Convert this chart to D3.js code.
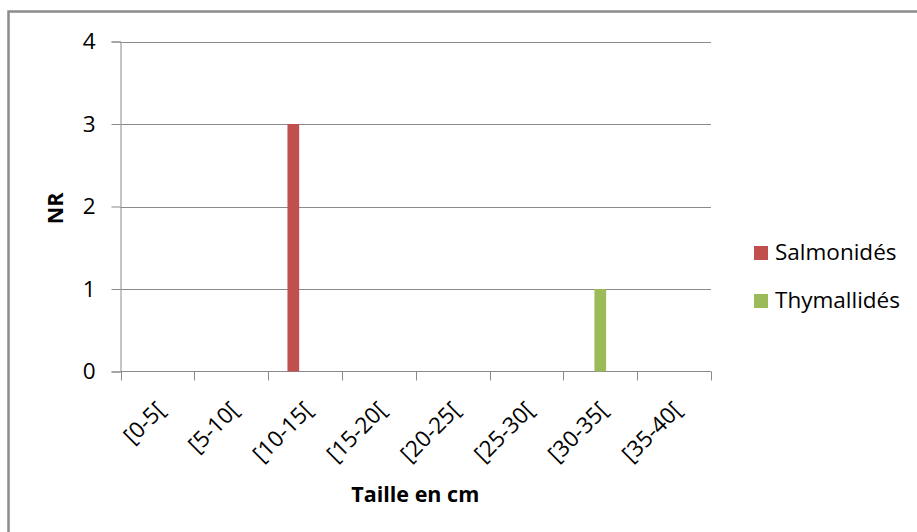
<!DOCTYPE html>
<html>
<head>
<meta charset="utf-8">
<script src="https://cdn.jsdelivr.net/npm/d3@7/dist/d3.min.js"></script>
<style>
  html, body { margin: 0; padding: 0; background: #fff; }
  svg { display: block; }
  text { font-family: "Open Sans", "DejaVu Sans", sans-serif; fill: #000; }
</style>
</head>
<body>
<svg id="chart" width="917" height="532"></svg>
<script>
// ---- data ----
const categories = ["[0-5[", "[5-10[", "[10-15[", "[15-20[", "[20-25[", "[25-30[", "[30-35[", "[35-40["];
const seriesNames = ["Salmonidés", "Thymallidés"];
const salmonides = [0, 0, 3, 0, 0, 0, 0, 0];
const thymallides = [0, 0, 0, 0, 0, 0, 1, 0];
const seriesValues = [salmonides, thymallides];
const seriesColors = ["#C0504D", "#9BBB59"];
const yTicks = [0, 1, 2, 3, 4];
const yTitle = "NR";
const xTitle = "Taille en cm";

// ---- layout ----
const W = 917, H = 532;
const plot = { left: 120.5, right: 711, top: 41.5, bottom: 371.5 };
const svg = d3.select("#chart");

// outer chart border (extends beyond right/bottom of the picture)
svg.append("rect")
  .attr("x", 8.5).attr("y", 11.5)
  .attr("width", 930).attr("height", 540)
  .attr("fill", "#fff").attr("stroke", "#8c8c8c").attr("stroke-width", 2.5);

const y = d3.scaleLinear().domain([0, 4]).range([plot.bottom, plot.top]);
const pIn = 0.524;
const x0 = d3.scaleBand().domain(categories).range([plot.left, plot.right])
  .paddingInner(pIn).paddingOuter(pIn / 2);
// cluster has three slots wide (as in the original workbook layout)
const x1 = d3.scaleBand().domain([0, 1, 2]).range([0, x0.bandwidth()]).padding(0);

// gridlines
svg.append("g").selectAll("line").data(yTicks.filter(d => d > 0)).join("line")
  .attr("x1", plot.left).attr("x2", plot.right)
  .attr("y1", d => Math.round(y(d)) + 0.5).attr("y2", d => Math.round(y(d)) + 0.5)
  .attr("stroke", "#8a8a8a").attr("stroke-width", 1);

// y axis
const yAxis = d3.axisLeft(y).tickValues(yTicks).tickSize(9).tickPadding(16).tickFormat(d3.format("d"));
const gy = svg.append("g").attr("transform", `translate(${plot.left},0)`).call(yAxis);
gy.select(".domain").attr("stroke", "#8a8a8a");
gy.selectAll(".tick line").attr("stroke", "#8a8a8a");
gy.selectAll(".tick text").attr("font-size", 22.5).attr("fill", "#000").attr("font-family", "Open Sans");

// x axis (ticks at category boundaries)
const xb = d3.scaleLinear().domain([0, categories.length]).range([plot.left, plot.right]);
const gx = svg.append("g");
gx.append("line").attr("x1", plot.left).attr("x2", plot.right)
  .attr("y1", plot.bottom).attr("y2", plot.bottom).attr("stroke", "#8a8a8a");
gx.selectAll("line.tk").data(d3.range(categories.length + 1)).join("line").attr("class", "tk")
  .attr("x1", d => Math.round(xb(d)) + 0.5).attr("x2", d => Math.round(xb(d)) + 0.5)
  .attr("y1", plot.bottom).attr("y2", plot.bottom + 9).attr("stroke", "#8a8a8a");
gx.selectAll("text").data(categories).join("text")
  .attr("transform", d => `translate(${x0(d) + x0.bandwidth() / 2 + 9},${plot.bottom + 40}) rotate(-45)`)
  .attr("text-anchor", "end")
  .attr("font-size", 22.5)
  .text(d => d);

// bars
seriesValues.forEach((vals, si) => {
  svg.append("g").selectAll("rect").data(vals.map((v, i) => ({ c: categories[i], v }))).join("rect")
    .attr("x", d => x0(d.c) + x1(si))
    .attr("width", x1.bandwidth())
    .attr("y", d => y(d.v))
    .attr("height", d => y(0) - y(d.v))
    .attr("fill", seriesColors[si]);
});

// axis titles
svg.append("text")
  .attr("transform", `translate(63,${(plot.top + plot.bottom) / 2 + 2}) rotate(-90)`)
  .attr("text-anchor", "middle").attr("font-size", 21.5).attr("font-weight", "bold")
  .text(yTitle);
svg.append("text")
  .attr("x", (plot.left + plot.right) / 2 - 0.5).attr("y", 502)
  .attr("text-anchor", "middle").attr("font-size", 21.5).attr("font-weight", "bold")
  .text(xTitle);

// legend
const lg = svg.append("g").attr("transform", "translate(754,246)");
seriesNames.forEach((n, i) => {
  lg.append("rect").attr("x", 0).attr("y", i * 48).attr("width", 14).attr("height", 14)
    .attr("fill", seriesColors[i]);
  lg.append("text").attr("x", 21).attr("y", i * 48 + 14).attr("font-size", 22.5).text(n);
});
</script>
</body>
</html>
